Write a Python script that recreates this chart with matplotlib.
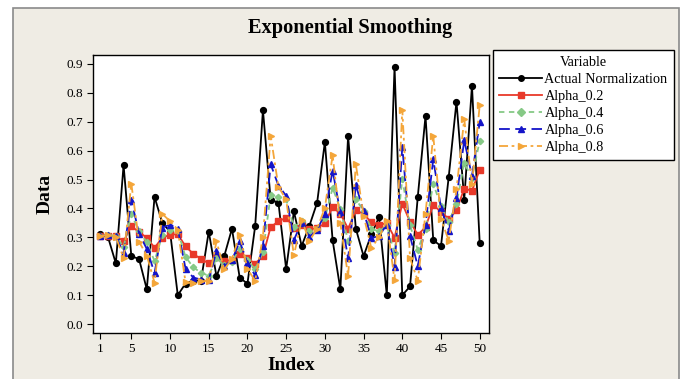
import numpy as np
import matplotlib
matplotlib.use('Agg')
import matplotlib.pyplot as plt
from matplotlib.patches import Rectangle

plt.rcParams['font.family'] = ['Liberation Serif', 'DejaVu Serif']

# data
index = np.arange(1, 51)
actual = [0.31, 0.30, 0.21, 0.55, 0.235, 0.225, 0.12, 0.44, 0.35, 0.32,
          0.10, 0.14, 0.15, 0.15, 0.32, 0.165, 0.235, 0.33, 0.16, 0.14,
          0.34, 0.74, 0.43, 0.42, 0.19, 0.39, 0.27, 0.34, 0.42, 0.63,
          0.29, 0.12, 0.65, 0.33, 0.235, 0.31, 0.37, 0.10, 0.89, 0.10,
          0.13, 0.44, 0.72, 0.29, 0.27, 0.51, 0.77, 0.43, 0.825, 0.28]
alpha_02 = [0.305, 0.306, 0.305, 0.286, 0.339, 0.318, 0.299, 0.264, 0.299, 0.309,
            0.311, 0.269, 0.243, 0.225, 0.210, 0.232, 0.218, 0.222, 0.243, 0.227,
            0.209, 0.236, 0.336, 0.355, 0.368, 0.333, 0.344, 0.329, 0.331, 0.349,
            0.405, 0.382, 0.330, 0.394, 0.381, 0.352, 0.343, 0.349, 0.299, 0.417,
            0.354, 0.309, 0.335, 0.412, 0.388, 0.364, 0.393, 0.469, 0.461, 0.534]
alpha_04 = [0.305, 0.307, 0.304, 0.267, 0.380, 0.322, 0.283, 0.218, 0.307, 0.324,
            0.322, 0.233, 0.196, 0.178, 0.167, 0.228, 0.203, 0.216, 0.261, 0.221,
            0.189, 0.249, 0.446, 0.439, 0.432, 0.335, 0.357, 0.322, 0.329, 0.366,
            0.471, 0.399, 0.287, 0.432, 0.391, 0.329, 0.321, 0.341, 0.245, 0.503,
            0.342, 0.257, 0.330, 0.486, 0.408, 0.353, 0.416, 0.557, 0.506, 0.634]
alpha_06 = [0.305, 0.308, 0.303, 0.247, 0.429, 0.313, 0.260, 0.176, 0.334, 0.344,
            0.330, 0.192, 0.161, 0.154, 0.152, 0.253, 0.200, 0.221, 0.286, 0.211,
            0.168, 0.271, 0.553, 0.479, 0.444, 0.291, 0.351, 0.302, 0.325, 0.382,
            0.531, 0.386, 0.227, 0.481, 0.390, 0.297, 0.305, 0.344, 0.198, 0.613,
            0.305, 0.200, 0.344, 0.570, 0.402, 0.323, 0.435, 0.636, 0.512, 0.700]
alpha_08 = [0.305, 0.309, 0.302, 0.228, 0.486, 0.285, 0.237, 0.143, 0.381, 0.356,
            0.327, 0.145, 0.141, 0.148, 0.150, 0.286, 0.189, 0.226, 0.309, 0.190,
            0.150, 0.302, 0.652, 0.475, 0.431, 0.238, 0.360, 0.288, 0.330, 0.402,
            0.584, 0.349, 0.166, 0.553, 0.375, 0.263, 0.301, 0.356, 0.151, 0.742,
            0.228, 0.150, 0.382, 0.652, 0.363, 0.289, 0.466, 0.709, 0.486, 0.757]

xticks = [1, 5, 10, 15, 20, 25, 30, 35, 40, 45, 50]
yticks = [0.0, 0.1, 0.2, 0.3, 0.4, 0.5, 0.6, 0.7, 0.8, 0.9]

fig = plt.figure(figsize=(6.82, 3.79), dpi=100)
fig.patch.set_facecolor('white')
# minitab style beige panel with grey frame
fig.patches.append(Rectangle((13/682, -0.01), 666/682, 1 - 8/379 + 0.01,
                             transform=fig.transFigure, facecolor='#EFECE4',
                             edgecolor='#8a8a8a', lw=1.2, zorder=-5))

ax = fig.add_axes([93/682, 1 - 333/379, 396/682, 278/379])
ax.set_facecolor('white')

series = [
    (actual, 'Actual Normalization', 'black', 'o', '-', 4.2),
    (alpha_02, 'Alpha_0.2', '#E8392A', 's', '-', 4.2),
    (alpha_04, 'Alpha_0.4', '#86C986', 'D', (0, (3, 2.5)), 3.2),
    (alpha_06, 'Alpha_0.6', '#1414C8', '^', (0, (6, 3)), 4.8),
    (alpha_08, 'Alpha_0.8', '#F4A63A', '>', (0, (5, 2, 1.5, 2)), 4.8),
]
for vals, name, col, mk, ls, ms in series:
    ax.plot(index, vals, color=col, marker=mk, ls=ls, lw=1.3, ms=ms,
            label=name, markeredgecolor=col)

ax.set_xlim(0.05, 51.2)
ax.set_ylim(-0.031, 0.931)
ax.set_xticks(xticks)
ax.set_yticks(yticks)
ax.set_yticklabels(['%.1f' % v for v in yticks])
ax.tick_params(direction='out', length=4, width=0.8, labelsize=9.5, pad=3)
for s in ax.spines.values():
    s.set_linewidth(1.0)

ax.set_xlabel('Index', fontsize=14, fontweight='bold', labelpad=2)
ax.set_ylabel('Data', fontsize=14, fontweight='bold', labelpad=9)
fig.text(350/682, 1 - 28/379, 'Exponential Smoothing', ha='center', va='center',
         fontsize=14.7, fontweight='bold')

leg = fig.legend(loc='upper left', bbox_to_anchor=(493/682, 1 - 50/379),
                 title='Variable', fontsize=10.3, title_fontsize=10.3,
                 frameon=True, fancybox=False, handlelength=3.0,
                 handletextpad=0.15, borderpad=0.45, labelspacing=0.27,
                 borderaxespad=0)
leg.get_frame().set_edgecolor('black')
leg.get_frame().set_linewidth(1.0)
leg.get_frame().set_alpha(1)
for h in leg.legend_handles:
    h.set_markersize(4)

fig.savefig('out.png', dpi=100, facecolor=fig.get_facecolor())
